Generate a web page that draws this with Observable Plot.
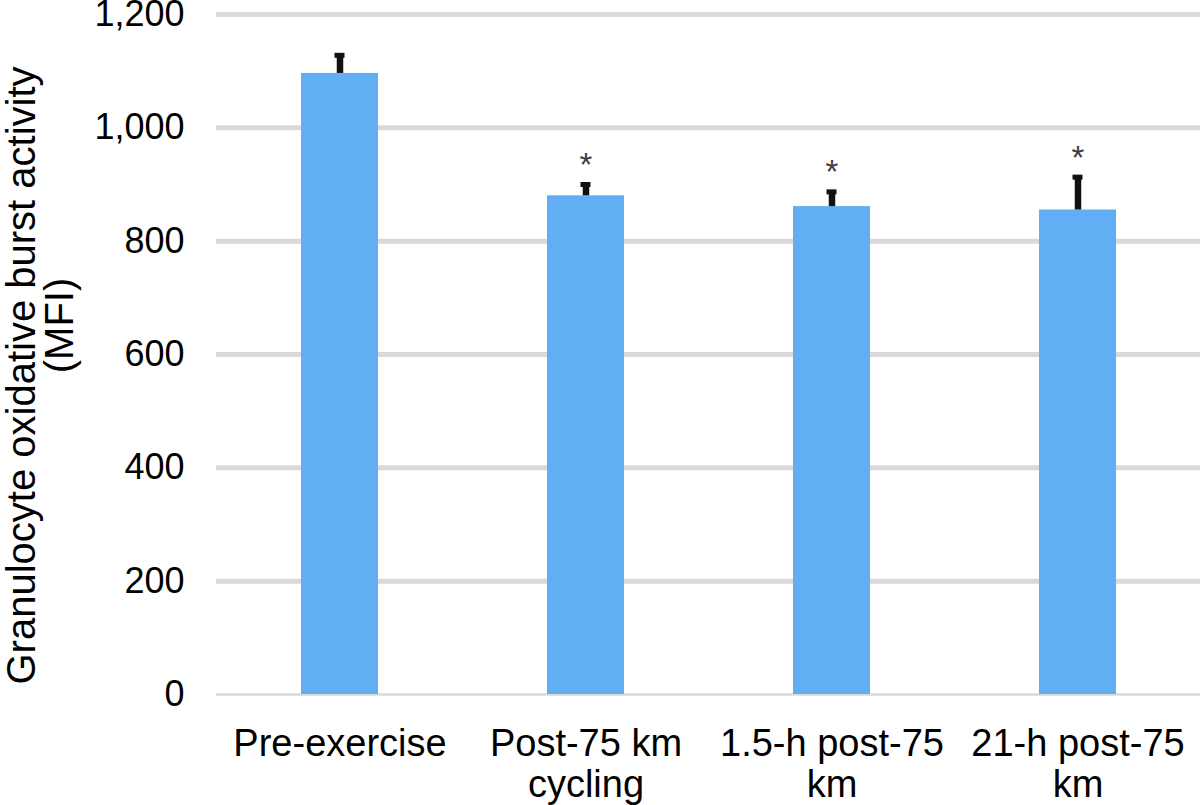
<!DOCTYPE html>
<html>
<head>
<meta charset="utf-8">
<script src="https://cdn.jsdelivr.net/npm/d3@7"></script>
<script src="https://cdn.jsdelivr.net/npm/@observablehq/plot@0.6"></script>
<style>
  html, body { margin: 0; padding: 0; background: #fff; }
  #chart { width: 1200px; height: 805px; }
</style>
</head>
<body>
<div id="chart"></div>
<script>
const categories = ["Pre-exercise", "Post-75 km cycling", "1.5-h post-75 km", "21-h post-75 km"];
const xLabels = ["Pre-exercise", "Post-75 km\ncycling", "1.5-h post-75\nkm", "21-h post-75\nkm"];
const means = [1096, 880, 861, 855];
const errors = [32, 20, 26, 58];
const significance = ["", "*", "*", "*"];
const yTicks = [0, 200, 400, 600, 800, 1000, 1200];

const data = categories.map((c, i) => ({
  category: c,
  label: xLabels[i],
  mean: means[i],
  upper: means[i] + errors[i],
  sig: significance[i]
}));

const font = "'Liberation Sans', Arial, sans-serif";

const chart = Plot.plot({
  width: 1200,
  height: 805,
  marginTop: 14,
  marginBottom: 111,
  marginLeft: 216,
  marginRight: 0,
  style: { fontFamily: font, fontSize: "36px", color: "#000", background: "#fff" },
  x: { domain: categories, paddingInner: 0.687, paddingOuter: 0.3435, axis: null },
  y: { domain: [0, 1200], ticks: yTicks, tickFormat: d3.format(","), tickSize: 0, tickPadding: 32, label: null },
  marks: [
    Plot.ruleY(yTicks.filter(d => d > 0), { stroke: "#D9D9D9", strokeWidth: 5 }),
    Plot.ruleY([0], { stroke: "#D9D9D9", strokeWidth: 2.5 }),
    Plot.barY(data, { x: "category", y: "mean", fill: "#61AEF5" }),
    Plot.ruleX(data, { x: "category", y1: "mean", y2: "upper", stroke: "#111", strokeWidth: 6.5 }),
    Plot.tickY(data, { x: "category", y: "upper", stroke: "#111", strokeWidth: 5, insetLeft: 33.5, insetRight: 33.5 }),
    Plot.text(data, { x: "category", y: "upper", text: "sig", dy: -19, fontSize: 33, fill: "#404040" }),
    Plot.text(data, { x: "category", text: "label", frameAnchor: "bottom", lineAnchor: "top", dy: 32, lineHeight: 1.08, fontSize: 38, fill: "#000" }),
    Plot.text(["Granulocyte oxidative burst activity"], { text: d => d, frameAnchor: "left", textAnchor: "middle", rotate: -90, dx: -194, dy: 21, fontSize: 40, fill: "#000" }),
    Plot.text(["(MFI)"], { text: d => d, frameAnchor: "left", textAnchor: "middle", rotate: -90, dx: -156, dy: -29, fontSize: 40, fill: "#000" })
  ]
});

document.getElementById("chart").appendChild(chart);
</script>
</body>
</html>
